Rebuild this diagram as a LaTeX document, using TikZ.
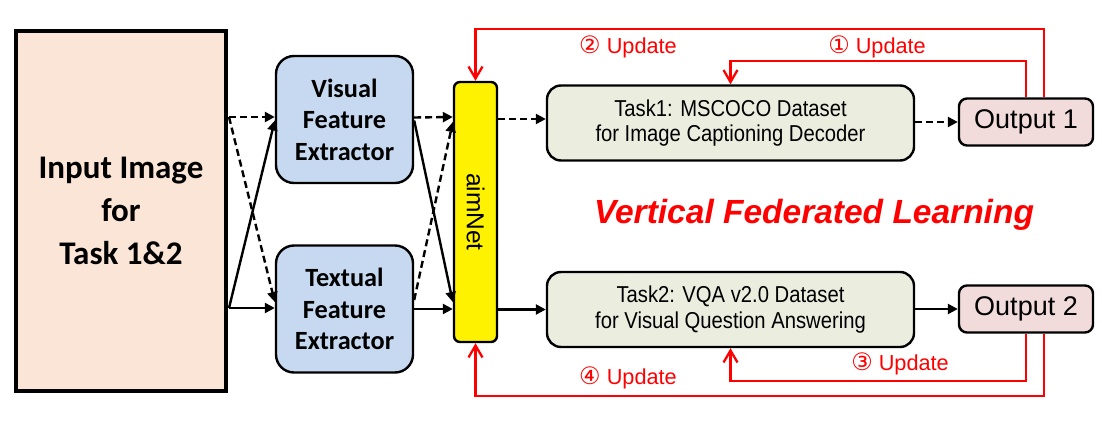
\documentclass[tikz,border=0pt]{standalone}
\usepackage{fontspec}
\setmainfont{Liberation Sans}
\newfontfamily\carlito{Carlito}
\newfontfamily\dejavu{DejaVu Sans}
\newfontfamily\narrowsans[FakeStretch=0.88]{Liberation Sans}
\usetikzlibrary{arrows.meta}
\definecolor{peach}{HTML}{FBE5D6}
\definecolor{paleblue}{HTML}{C6D9F0}
\definecolor{paleolive}{HTML}{EBEEDF}
\definecolor{palerose}{HTML}{F2DCDB}
\tikzset{
    box/.style={draw=black, line width=2.4pt, align=center, inner sep=0pt},
    extractor/.style={box, fill=paleblue, rounded corners=18pt, minimum width=137pt, minimum height=127pt,
        font=\carlito\bfseries\fontsize{26.3}{31.5}\selectfont},
    taskbox/.style={box, fill=paleolive, rounded corners=14pt, minimum width=367pt, minimum height=75pt,
        font=\narrowsans\fontsize{23}{25.5}\selectfont},
    outbox/.style={box, fill=palerose, rounded corners=8pt, minimum width=134pt, minimum height=47pt,
        font=\fontsize{27}{30}\selectfont},
    flow/.style={line width=2.4pt, -{Triangle[length=10pt,width=10pt]}},
    flowdash/.style={flow, dash pattern=on 7pt off 4pt},
    upd/.style={red, line width=2.3pt, -{Straight Barb[length=12pt,width=14pt]}},
    updlabel/.style={red, font=\fontsize{21.7}{24}\selectfont},
}
\newcommand{\stepnum}[1]{{\dejavu\fontsize{24}{24}\selectfont #1}}

\begin{document}
\begin{tikzpicture}[x=1pt, y=-1pt]
\useasboundingbox (0,0) rectangle (1102,420);
\node[box, line width=3.5pt, fill=peach, minimum width=210pt, minimum height=360pt,
    font=\carlito\bfseries\fontsize{33}{43}\selectfont] (input) at (121,211) {Input Image\\for\\Task 1\&2};
\node[extractor] (visual) at (344.5,119.5) {Visual\\Feature\\Extractor};
\node[extractor] (textual) at (344.5,309) {Textual\\Feature\\Extractor};
\node[box, fill=yellow, rounded corners=6pt, minimum width=43pt, minimum height=260pt,
    label={[rotate=-90, font=\fontsize{24.5}{28}\selectfont]center:aimNet}] (aimnet) at (475.5,212) {};
\node[taskbox] (task1) at (730.5,123) {Task1: MSCOCO Dataset\\for Image Captioning Decoder};
\node[taskbox] (task2) at (730.5,309.5) {Task2: VQA v2.0 Dataset\\for Visual Question Answering};
\node[outbox] (out1) at (1026,122) {Output 1};
\node[outbox] (out2) at (1026,309) {Output 2};
\node[red, font=\bfseries\itshape\fontsize{33.5}{36}\selectfont] (vfl) at (814,215) {Vertical Federated Learning};

\coordinate (split1) at (229,117);
\coordinate (split2) at (229,308);
\draw[flowdash] (split1) -- (split1 -| visual.west);
\draw[flowdash] (split1) -- ([yshift=7pt]textual.west);
\draw[flow] (split2) -- (split2 -| textual.west);
\draw[flow] (split2) -- ([yshift=-1pt]visual.west);

\draw[flowdash] ([yshift=2pt]visual.east) -- ([yshift=95pt]aimnet.west);
\draw[flow] ([yshift=-1pt]visual.east) -- ([yshift=-90pt]aimnet.west);
\draw[flowdash] ([yshift=9pt]textual.east) -- ([yshift=90pt]aimnet.west);
\draw[flow] (textual.east) -- (textual.east -| aimnet.west);

\coordinate (t1in) at ([yshift=4pt]task1.west);
\draw[flowdash] (aimnet.east |- t1in) -- (t1in);
\draw[flowdash] (task1.east |- out1.west) -- (out1.west);
\draw[flow] (aimnet.east |- task2.west) -- (task2.west);
\draw[flow] (task2.east |- out2.west) -- (out2.west);

\draw[upd] (out1.north) -- ++(0,-36) -| (task1.north);
\draw[upd] ([xshift=18pt]out1.north) -- ++(0,-68) -| (aimnet.north);
\draw[upd] (out2.south) -- ++(0,47) -| (task2.south);
\draw[upd] ([xshift=18pt]out2.south) -- ++(0,62) -| (aimnet.south);

\node[updlabel] (lab1) at (877,47) {\stepnum{①} Update};
\node[updlabel] (lab2) at (628,47) {\stepnum{②} Update};
\node[updlabel] (lab3) at (900,364) {\stepnum{③} Update};
\node[updlabel] (lab4) at (628,378) {\stepnum{④} Update};
\end{tikzpicture}
\end{document}
